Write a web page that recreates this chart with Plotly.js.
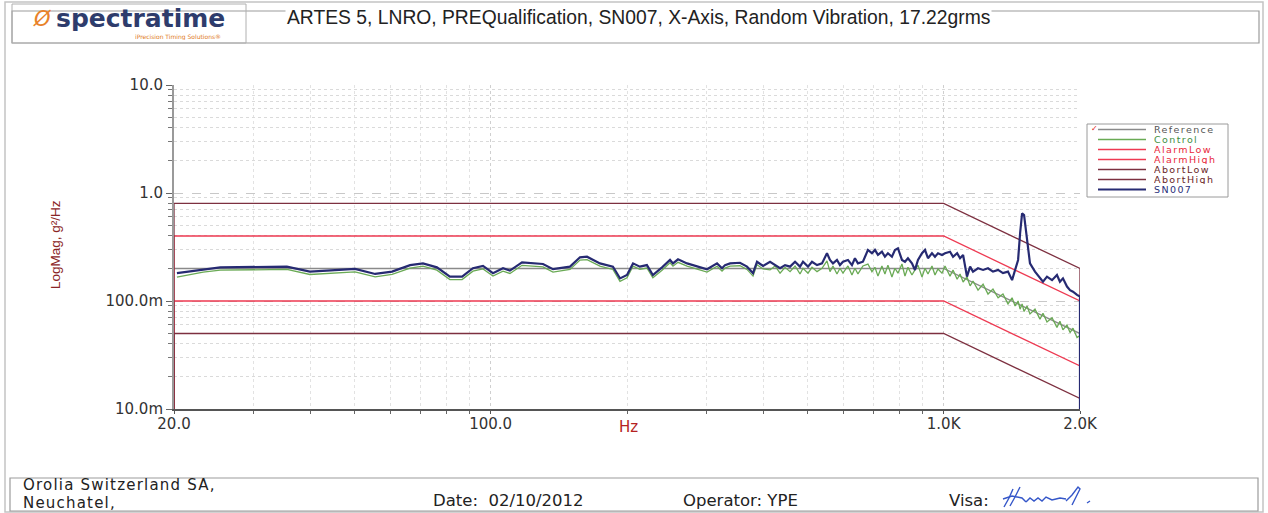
<!DOCTYPE html>
<html>
<head>
<meta charset="utf-8">
<script src="https://cdn.plot.ly/plotly-3.0.1.min.js"></script>
<style>
  html, body { margin: 0; padding: 0; background: #ffffff; }
  #chart { width: 1268px; height: 513px; }
</style>
</head>
<body>
<div id="chart"></div>
<script>
// Random vibration test profile: breakpoints (Hz) and levels (g²/Hz)
const profileFreq  = [20, 1000, 2000];
const referencePsd = [0.2, 0.2, 0.05];
const alarmLowPsd  = [0.1, 0.1, 0.025];
const alarmHighPsd = [0.4, 0.4, 0.1];
const abortLowPsd  = [0.05, 0.05, 0.0125];
const abortHighPsd = [0.8, 0.8, 0.2];
const edgeFloor = 0.001; // profile lines start and end below the axis floor

// Measured spectra, 20–400 Hz (shared frequency points)
const lowFreq = [20.3, 23.2, 25.3, 35.5, 39.9, 43.5, 50.2, 55.6, 60.6, 66.4,
  70.9, 76.1, 81.3, 86.5, 91.4, 96.2, 101.2, 106.5, 110.3, 117.3,
  124.0, 130.5, 137.3, 149.7, 157.5, 163.2, 174.3, 186.2, 193.0, 200.0,
  206.2, 213.5, 221.3, 228.1, 239.0, 248.9, 252.7, 259.2, 271.4, 289.9,
  300.4, 316.1, 324.2, 329.2, 337.7, 355.2, 368.1, 379.5, 387.3, 399.3];
const sn007Low = [0.181, 0.197, 0.205, 0.208, 0.187, 0.191, 0.198, 0.178, 0.187, 0.215,
  0.223, 0.205, 0.168, 0.168, 0.201, 0.211, 0.181, 0.201, 0.191, 0.228,
  0.223, 0.220, 0.197, 0.208, 0.254, 0.257, 0.223, 0.208, 0.162, 0.174,
  0.223, 0.208, 0.215, 0.174, 0.205, 0.240, 0.223, 0.243, 0.223, 0.205,
  0.197, 0.223, 0.201, 0.215, 0.223, 0.226, 0.208, 0.181, 0.231, 0.211];
const controlLow = [0.166, 0.185, 0.193, 0.196, 0.176, 0.180, 0.186, 0.167, 0.176, 0.202,
  0.210, 0.193, 0.158, 0.158, 0.189, 0.198, 0.170, 0.189, 0.180, 0.214,
  0.210, 0.207, 0.185, 0.196, 0.239, 0.242, 0.210, 0.196, 0.152, 0.164,
  0.210, 0.196, 0.202, 0.164, 0.193, 0.226, 0.210, 0.228, 0.210, 0.193,
  0.185, 0.210, 0.189, 0.202, 0.210, 0.212, 0.196, 0.170, 0.217, 0.198];

// SN007 response, 400 Hz – 2 kHz
const sn007HighFreq = [413.8, 435.4, 446.6, 458.1, 469.9, 481.9, 489.3, 501.9, 512.2, 525.4,
  538.9, 552.7, 561.2, 569.8, 581.5, 590.4, 599.5, 614.9, 627.5, 637.1,
  646.9, 663.5, 680.6, 694.6, 705.3, 716.2, 730.8, 742.0, 753.4, 768.9,
  780.7, 792.7, 809.1, 821.5, 834.1, 851.3, 864.4, 877.7, 895.8, 909.6,
  923.5, 942.5, 957.0, 971.7, 991.7, 1007, 1033, 1049, 1071, 1087,
  1104, 1126, 1144, 1161, 1191, 1222, 1253, 1285, 1319, 1352,
  1387, 1416, 1438, 1460, 1475, 1490, 1505, 1528, 1551, 1591,
  1632, 1657, 1691, 1735, 1779, 1806, 1834, 1872, 1901, 1930,
  1970, 2000];
const sn007High = [0.231, 0.201, 0.215, 0.208, 0.231, 0.208, 0.231, 0.208, 0.231, 0.215,
  0.223, 0.277, 0.240, 0.223, 0.240, 0.215, 0.231, 0.240, 0.215, 0.249,
  0.223, 0.231, 0.297, 0.277, 0.297, 0.267, 0.286, 0.257, 0.277, 0.257,
  0.297, 0.308, 0.240, 0.231, 0.249, 0.223, 0.194, 0.240, 0.277, 0.297,
  0.249, 0.277, 0.257, 0.277, 0.267, 0.277, 0.286, 0.257, 0.277, 0.249,
  0.267, 0.168, 0.208, 0.187, 0.201, 0.194, 0.201, 0.187, 0.194, 0.181,
  0.187, 0.156, 0.194, 0.240, 0.424, 0.649, 0.626, 0.394, 0.223, 0.187,
  0.162, 0.151, 0.168, 0.156, 0.174, 0.151, 0.162, 0.136, 0.126, 0.122,
  0.114, 0.110];

// Control channel, 400 Hz – 2 kHz
const controlHighFreq = [413.8, 424.5, 435.4, 446.6, 458.1, 469.9, 481.9, 489.3, 501.9, 512.2,
  525.4, 538.9, 552.7, 561.2, 569.8, 581.5, 590.4, 599.5, 614.9, 627.5,
  637.1, 646.9, 663.5, 680.6, 694.6, 705.3, 716.2, 730.8, 742.0, 753.4,
  768.9, 780.7, 792.7, 809.1, 821.5, 834.1, 851.3, 864.4, 877.7, 895.8,
  909.6, 923.5, 942.5, 957.0, 971.7, 991.7, 1007, 1033, 1049, 1071,
  1087, 1104, 1126, 1144, 1161, 1191, 1222, 1253, 1285, 1319,
  1352, 1387, 1416, 1438, 1460, 1475, 1490, 1505, 1528, 1551,
  1591, 1632, 1657, 1691, 1735, 1779, 1806, 1834, 1872, 1901,
  1930, 1970, 2000];
const controlHigh = [0.194, 0.211, 0.181, 0.205, 0.187, 0.211, 0.178, 0.201, 0.181, 0.205,
  0.187, 0.201, 0.235, 0.187, 0.211, 0.178, 0.201, 0.181, 0.211, 0.174,
  0.201, 0.178, 0.211, 0.220, 0.187, 0.205, 0.170, 0.211, 0.178, 0.215,
  0.167, 0.201, 0.181, 0.220, 0.170, 0.205, 0.174, 0.194, 0.215, 0.167,
  0.201, 0.178, 0.211, 0.174, 0.198, 0.181, 0.211, 0.170, 0.194, 0.159,
  0.178, 0.150, 0.167, 0.138, 0.153, 0.126, 0.143, 0.116, 0.129, 0.107,
  0.116, 0.094, 0.107, 0.090, 0.100, 0.084, 0.094, 0.080, 0.090, 0.076,
  0.084, 0.068, 0.077, 0.064, 0.070, 0.057, 0.065, 0.054, 0.060, 0.051,
  0.056, 0.046, 0.048];

// Axis ticks
const xTickVals = [20, 100, 1000, 2000];
const xTickText = ['20.0', '100.0', '1.0K', '2.0K'];
const xMinorVals = [30, 40, 50, 60, 70, 80, 90, 200, 300, 400, 500, 600, 700, 800, 900];
const yTickVals = [0.01, 0.1, 1, 10];
const yTickText = ['10.0m', '100.0m', '1.0', '10.0'];
const yMinorVals = [0.02, 0.03, 0.04, 0.05, 0.06, 0.07, 0.08, 0.09,
  0.2, 0.3, 0.4, 0.5, 0.6, 0.7, 0.8, 0.9, 2, 3, 4, 5, 6, 7, 8, 9];

// Series names and colours, in legend order
const seriesNames = ['Reference', 'Control', 'AlarmLow', 'AlarmHigh', 'AbortLow', 'AbortHigh', 'SN007'];
const lineColors  = ['#8a8a8a', '#6aaa55', '#ee3a52', '#ee3a52', '#7d3040', '#7d3040', '#262a72'];
const labelColors = ['#555555', '#3f8f3f', '#e8283a', '#e8283a', '#6a1e1e', '#6a1e1e', '#2a2f7a'];

// ---- page geometry helpers (page pixels -> paper fraction) ----
const W = 1268, H = 513;
const px = x => x / W;
const py = y => 1 - y / H;
const pathFrom = pts => pts.map((p, i) => (i ? 'L' : 'M') + px(p[0]).toFixed(5) + ',' + py(p[1]).toFixed(5)).join(' ');

// profile line with a vertical rise at the start and drop at the end
function edged(freqs, vals) {
  return {
    x: [freqs[0]].concat(freqs, [freqs[freqs.length - 1]]),
    y: [edgeFloor].concat(vals, [edgeFloor])
  };
}

const traces = [];
function addLine(idx, xs, ys, width) {
  traces.push({
    type: 'scatter', mode: 'lines', name: seriesNames[idx],
    x: xs, y: ys, showlegend: false, hoverinfo: 'x+y+name',
    line: { color: lineColors[idx], width: width }
  });
}

addLine(0, profileFreq, referencePsd, 1.4);
addLine(1, lowFreq.concat(controlHighFreq), controlLow.concat(controlHigh), 1.3);
const limitSets = [alarmLowPsd, alarmHighPsd, abortLowPsd, abortHighPsd];
limitSets.forEach((vals, k) => {
  const e = edged(profileFreq, vals);
  addLine(2 + k, e.x, e.y, 1.3);
});
// SN007 runs from its first measured point and drops off at 2 kHz
const snX = lowFreq.concat(sn007HighFreq);
const snY = sn007Low.concat(sn007High);
addLine(6, snX.concat([snX[snX.length - 1]]), snY.concat([edgeFloor]), 2.2);

// ---- frames, legend box, signature ----
const shapes = [];
function rect(x0, y0, x1, y1, color, width) {
  shapes.push({ type: 'rect', xref: 'paper', yref: 'paper',
    x0: px(x0), x1: px(x1), y0: py(y1), y1: py(y0),
    line: { color: color, width: width }, fillcolor: 'rgba(0,0,0,0)', layer: 'below' });
}
rect(5, 2, 1263, 512, '#c4c4c4', 1.5);      // page edge
rect(12, 11, 1259, 43, '#9c9c9c', 1.2);     // header box
rect(12, 4, 246, 43, '#b0b0b0', 1.0);       // logo box
rect(10, 478, 1258, 511, '#9c9c9c', 1.2);   // footer box
rect(1087, 124, 1228, 197, '#9a9a9a', 1.0); // legend box

const legendRows = [129.5, 139.5, 149.5, 159.5, 169.5, 179.5, 189.5];
legendRows.forEach((yy, i) => {
  shapes.push({ type: 'line', xref: 'paper', yref: 'paper',
    x0: px(1098), x1: px(1146), y0: py(yy), y1: py(yy),
    line: { color: lineColors[i], width: i === 6 ? 2 : 1.4 } });
});

// handwritten visa
const sigStrokes = [
  [[1004, 507], [1009, 498], [1013, 489]],
  [[1010, 506], [1015, 497], [1020, 487]],
  [[1003, 499], [1012, 496], [1022, 498], [1026, 502]],
  [[1026, 502], [1030, 498], [1034, 501], [1038, 498], [1042, 501], [1046, 497], [1052, 500], [1060, 498], [1066, 499]],
  [[1066, 501], [1072, 495], [1078, 487], [1080, 489], [1075, 499], [1072, 505]],
  [[1087, 503], [1090, 501]]
];
sigStrokes.forEach(s => shapes.push({ type: 'path', xref: 'paper', yref: 'paper',
  path: pathFrom(s), line: { color: '#3557c9', width: 1.4 } }));

// ---- texts ----
const annotations = [];
function label(text, x, y, opts) {
  annotations.push(Object.assign({
    xref: 'paper', yref: 'paper', x: px(x), y: py(y), text: text,
    showarrow: false, xanchor: 'left', yanchor: 'middle',
    font: { family: 'DejaVu Sans', size: 16.5, color: '#222222' }
  }, opts || {}));
}
const spaced = (t, s) => '<span style="letter-spacing:' + s + 'px">' + t + '</span>';

label('ARTES 5, LNRO, PREQualification, SN007, X-Axis, Random Vibration, 17.22grms', 285, 17,
  { font: { family: 'Liberation Sans', size: 19.3, color: '#222222' }, bgcolor: '#ffffff', borderpad: 1 });
label('Ø', 31, 19, { font: { family: 'DejaVu Sans', size: 21, color: '#e8822a', style: 'italic' } });
label('spectratime', 54, 18, { height: 26, font: { family: 'DejaVu Sans', size: 25, weight: 'bold', color: '#2e3c6c' } });
label('iPrecision Timing Solutions®', 178, 36, { xanchor: 'center', height: 7,
  font: { family: 'DejaVu Sans', size: 6, color: '#e07a1a' } });

label('LogMag, g²/Hz', 55, 245, { xanchor: 'center', textangle: -90,
  font: { family: 'Liberation Sans', size: 13.5, color: '#8b2525' } });
label('Hz', 628, 427, { xanchor: 'center',
  font: { family: 'DejaVu Sans', size: 15, color: '#b52222' } });

seriesNames.forEach((name, i) => {
  label(spaced(name, 1.4), 1153, legendRows[i],
    { height: 9, borderpad: 0, font: { family: 'DejaVu Sans', size: 9.5, color: labelColors[i] } });
});
label('✓', 1090, 128, { height: 6, borderpad: 0, font: { family: 'DejaVu Sans', size: 8, color: '#e02020' } });

label(spaced('Orolia Switzerland SA,', 1.2), 22, 485, { height: 14, borderpad: 0,
  font: { family: 'DejaVu Sans', size: 15, color: '#222222' } });
label(spaced('Neuchatel,', 1.2), 22, 502.5, { height: 14, borderpad: 0,
  font: { family: 'DejaVu Sans', size: 15, color: '#222222' } });
label('Date:\u00a0\u00a002/10/2012', 431, 500);
label('Operator: YPE', 681, 500);
label('Visa:', 947, 500);

// ---- layout ----
const layout = {
  width: W, height: H,
  margin: { l: 0, r: 0, t: 0, b: 0 },
  paper_bgcolor: '#ffffff', plot_bgcolor: '#ffffff',
  showlegend: false,
  xaxis: {
    type: 'log', range: [Math.log10(20), Math.log10(2000)],
    domain: [px(174), px(1080)],
    tickvals: xTickVals, ticktext: xTickText,
    ticks: 'outside', ticklen: 3, tickcolor: '#555555',
    ticklabelstandoff: -3,
    showline: true, linecolor: '#555555', linewidth: 2,
    showgrid: true, gridcolor: '#cfcfcf', griddash: 'dot', gridwidth: 1,
    zeroline: false,
    tickfont: { family: 'DejaVu Sans', size: 15, color: '#333333' },
    minor: { tickvals: xMinorVals, ticks: 'outside', ticklen: 3, tickcolor: '#666666',
      showgrid: true, gridcolor: '#e2e2e2', griddash: 'dot', gridwidth: 1 }
  },
  yaxis: {
    type: 'log', range: [-2, 1],
    domain: [py(409), py(85)],
    tickvals: yTickVals, ticktext: yTickText,
    ticks: 'outside', ticklen: 6, tickcolor: '#666666',
    showline: true, linecolor: '#9a9a9a', linewidth: 2,
    showgrid: true, gridcolor: '#c8c8c8', griddash: 'dash', gridwidth: 1,
    zeroline: false,
    tickfont: { family: 'DejaVu Sans', size: 15, color: '#333333' },
    minor: { tickvals: yMinorVals, ticks: 'outside', ticklen: 4, tickcolor: '#777777',
      showgrid: true, gridcolor: '#dadada', griddash: 'dot', gridwidth: 1 }
  },
  shapes: shapes,
  annotations: annotations
};

Plotly.newPlot('chart', traces, layout, { displayModeBar: false, staticPlot: true });
</script>
</body>
</html>
